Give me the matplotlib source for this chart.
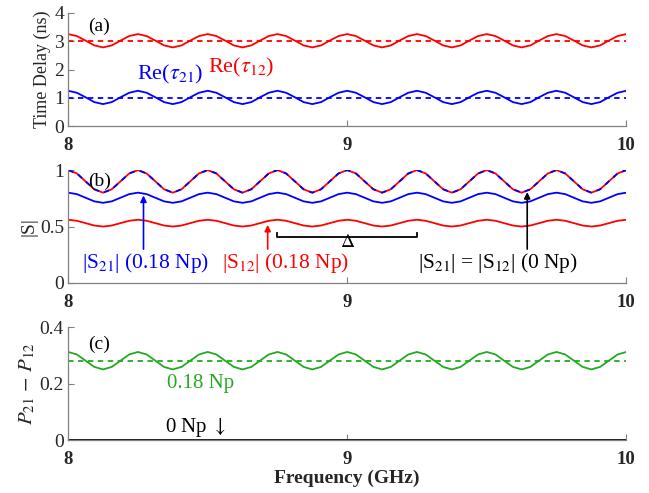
import numpy as np
import matplotlib
matplotlib.use("Agg")
from matplotlib import pyplot as plt

plt.rcParams["font.family"] = ["Liberation Serif", "DejaVu Serif"]
plt.rcParams["mathtext.fontset"] = "stix"

# frequency grid (GHz), 1/8 of a ripple period between samples
freq = np.linspace(8, 10, 65)

# (a) time delay (ns)
tau12 = [3.25, 3.18, 3.02, 2.85, 2.78, 2.85, 3.02, 3.18,
         3.25, 3.18, 3.02, 2.85, 2.78, 2.85, 3.02, 3.18,
         3.25, 3.18, 3.02, 2.85, 2.78, 2.85, 3.02, 3.18,
         3.25, 3.18, 3.02, 2.85, 2.78, 2.85, 3.02, 3.18,
         3.25, 3.18, 3.02, 2.85, 2.78, 2.85, 3.02, 3.18,
         3.25, 3.18, 3.02, 2.85, 2.78, 2.85, 3.02, 3.18,
         3.25, 3.18, 3.02, 2.85, 2.78, 2.85, 3.02, 3.18,
         3.25, 3.18, 3.02, 2.85, 2.78, 2.85, 3.02, 3.18,
         3.25]
tau21 = [1.25, 1.18, 1.02, 0.85, 0.78, 0.85, 1.02, 1.18,
         1.25, 1.18, 1.02, 0.85, 0.78, 0.85, 1.02, 1.18,
         1.25, 1.18, 1.02, 0.85, 0.78, 0.85, 1.02, 1.18,
         1.25, 1.18, 1.02, 0.85, 0.78, 0.85, 1.02, 1.18,
         1.25, 1.18, 1.02, 0.85, 0.78, 0.85, 1.02, 1.18,
         1.25, 1.18, 1.02, 0.85, 0.78, 0.85, 1.02, 1.18,
         1.25, 1.18, 1.02, 0.85, 0.78, 0.85, 1.02, 1.18,
         1.25, 1.18, 1.02, 0.85, 0.78, 0.85, 1.02, 1.18,
         1.25]
tau12_mean = 3.0
tau21_mean = 1.0

# (b) |S|
s_lossless = [1.00, 0.97, 0.90, 0.83, 0.80, 0.83, 0.90, 0.97,
              1.00, 0.97, 0.90, 0.83, 0.80, 0.83, 0.90, 0.97,
              1.00, 0.97, 0.90, 0.83, 0.80, 0.83, 0.90, 0.97,
              1.00, 0.97, 0.90, 0.83, 0.80, 0.83, 0.90, 0.97,
              1.00, 0.97, 0.90, 0.83, 0.80, 0.83, 0.90, 0.97,
              1.00, 0.97, 0.90, 0.83, 0.80, 0.83, 0.90, 0.97,
              1.00, 0.97, 0.90, 0.83, 0.80, 0.83, 0.90, 0.97,
              1.00, 0.97, 0.90, 0.83, 0.80, 0.83, 0.90, 0.97,
              1.00]
s21 = [0.800, 0.787, 0.755, 0.723, 0.710, 0.723, 0.755, 0.787,
       0.800, 0.787, 0.755, 0.723, 0.710, 0.723, 0.755, 0.787,
       0.800, 0.787, 0.755, 0.723, 0.710, 0.723, 0.755, 0.787,
       0.800, 0.787, 0.755, 0.723, 0.710, 0.723, 0.755, 0.787,
       0.800, 0.787, 0.755, 0.723, 0.710, 0.723, 0.755, 0.787,
       0.800, 0.787, 0.755, 0.723, 0.710, 0.723, 0.755, 0.787,
       0.800, 0.787, 0.755, 0.723, 0.710, 0.723, 0.755, 0.787,
       0.800, 0.787, 0.755, 0.723, 0.710, 0.723, 0.755, 0.787,
       0.800]
s12 = [0.560, 0.551, 0.530, 0.509, 0.500, 0.509, 0.530, 0.551,
       0.560, 0.551, 0.530, 0.509, 0.500, 0.509, 0.530, 0.551,
       0.560, 0.551, 0.530, 0.509, 0.500, 0.509, 0.530, 0.551,
       0.560, 0.551, 0.530, 0.509, 0.500, 0.509, 0.530, 0.551,
       0.560, 0.551, 0.530, 0.509, 0.500, 0.509, 0.530, 0.551,
       0.560, 0.551, 0.530, 0.509, 0.500, 0.509, 0.530, 0.551,
       0.560, 0.551, 0.530, 0.509, 0.500, 0.509, 0.530, 0.551,
       0.560, 0.551, 0.530, 0.509, 0.500, 0.509, 0.530, 0.551,
       0.560]

# (c) P21 - P12
dp_lossy = [0.312, 0.303, 0.281, 0.259, 0.250, 0.259, 0.281, 0.303,
            0.312, 0.303, 0.281, 0.259, 0.250, 0.259, 0.281, 0.303,
            0.312, 0.303, 0.281, 0.259, 0.250, 0.259, 0.281, 0.303,
            0.312, 0.303, 0.281, 0.259, 0.250, 0.259, 0.281, 0.303,
            0.312, 0.303, 0.281, 0.259, 0.250, 0.259, 0.281, 0.303,
            0.312, 0.303, 0.281, 0.259, 0.250, 0.259, 0.281, 0.303,
            0.312, 0.303, 0.281, 0.259, 0.250, 0.259, 0.281, 0.303,
            0.312, 0.303, 0.281, 0.259, 0.250, 0.259, 0.281, 0.303,
            0.312]
dp_mean = 0.28
dp_lossless = 0.0

RED = "#FF0000"
BLUE = "#0000FF"
GREEN = "#22AA22"
GRAY = "#808080"
TXT = "#262626"

fig = plt.figure(figsize=(6.49, 4.93), dpi=100, facecolor="white")
left, width = 0.105, 0.860
ax_a = fig.add_axes([left, 0.744, width, 0.230])
ax_b = fig.add_axes([left, 0.426, width, 0.229])
ax_c = fig.add_axes([left, 0.1075, width, 0.229])


def style_axis(ax, yticks, yticklabels):
    for side in ["top", "right"]:
        ax.spines[side].set_visible(False)
    for side in ["left", "bottom"]:
        ax.spines[side].set_color(GRAY)
        ax.spines[side].set_linewidth(0.9)
    ax.set_xlim(8, 10)
    ax.set_xticks([8, 9, 10])
    ax.set_xticklabels(["8", "9", "10"], fontweight="bold", fontsize=13.5)
    ax.set_yticks(yticks)
    ax.set_yticklabels(yticklabels, fontsize=14)
    ax.tick_params(direction="in", length=4, color=GRAY, labelcolor=TXT, pad=3)
    ax.tick_params(axis="x", pad=8)


# (a)
ax_a.plot(freq, tau12, color=RED, lw=1.3)
ax_a.plot(freq, tau21, color=BLUE, lw=1.3)
ax_a.axhline(tau12_mean, color=RED, lw=1.3, ls=(0, (3, 2.5)))
ax_a.axhline(tau21_mean, color=BLUE, lw=1.3, ls=(0, (3, 2.5)))
ax_a.set_ylim(0, 4)
style_axis(ax_a, [0, 1, 2, 3, 4], ["0", "1", "2", "3", "4"])
ax_a.set_ylabel("Time Delay (ns)", fontsize=13, color=TXT, labelpad=2)
ax_a.text(8.07, 3.52, "(a)", fontsize=14, va="center")
ax_a.text(8.366, 1.84, r"Re($\tau_{21}$)", color=BLUE, fontsize=16, va="center", ha="center")
ax_a.text(8.62, 2.06, r"Re($\tau_{12}$)", color=RED, fontsize=16, va="center", ha="center")

# (b)
ax_b.plot(freq, s_lossless, color=RED, lw=1.3)
ax_b.plot(freq, s_lossless, color=BLUE, lw=1.3, ls=(0, (3, 3)))
ax_b.plot(freq, s21, color=BLUE, lw=1.3)
ax_b.plot(freq, s12, color=RED, lw=1.3)
ax_b.set_ylim(0, 1)
style_axis(ax_b, [0, 0.5, 1], ["0", "0.5", "1"])
ax_b.set_ylabel("|S|", fontsize=14, color=TXT, labelpad=2)
ax_b.text(8.07, 0.9, "(b)", fontsize=14, va="center")
ax_b.annotate("", xy=(8.27, 0.775), xytext=(8.27, 0.3),
              arrowprops=dict(arrowstyle="-|>", color=BLUE, lw=1.2,
                              mutation_scale=9, shrinkA=0, shrinkB=0))
ax_b.annotate("", xy=(8.715, 0.515), xytext=(8.715, 0.3),
              arrowprops=dict(arrowstyle="-|>", color=RED, lw=1.2,
                              mutation_scale=9, shrinkA=0, shrinkB=0))
ax_b.annotate("", xy=(9.645, 0.805), xytext=(9.645, 0.3),
              arrowprops=dict(arrowstyle="-|>", color="black", lw=1.2,
                              mutation_scale=9, shrinkA=0, shrinkB=0))
ax_b.plot([8.75, 8.75, 9.25, 9.25], [0.44, 0.41, 0.41, 0.44], color="black", lw=1.3)
ax_b.text(9.0, 0.355, r"$\Delta$", fontsize=14, ha="center", va="center")
ax_b.text(8.278, 0.18, r"|S$_{21}$| (0.18 Np)", color=BLUE, fontsize=15.5, ha="center", va="center")
ax_b.text(8.778, 0.18, r"|S$_{12}$| (0.18 Np)", color=RED, fontsize=15.5, ha="center", va="center")
ax_b.text(9.541, 0.18, r"|S$_{21}$| = |S$_{12}$| (0 Np)", color="black", fontsize=15.5,
          ha="center", va="center")

# (c)
ax_c.plot(freq, dp_lossy, color=GREEN, lw=1.3)
ax_c.axhline(dp_mean, color=GREEN, lw=1.3, ls=(0, (3, 2.5)))
ax_c.axhline(dp_lossless, color="black", lw=2.0)
ax_c.set_ylim(0, 0.4)
style_axis(ax_c, [0, 0.2, 0.4], ["0", "0.2", "0.4"])
ax_c.set_ylabel(r"$P_{21}\,-\,P_{12}$", fontsize=15, color=TXT, labelpad=2)
ax_c.text(8.07, 0.34, "(c)", fontsize=14, va="center")
ax_c.text(8.473, 0.2, "0.18 Np", color=GREEN, fontsize=15, ha="center", va="center")
ax_c.text(8.455, 0.046, r"0 Np $\downarrow$", color="black", fontsize=15, ha="center", va="center")
ax_c.set_xlabel("Frequency (GHz)", fontsize=14, fontweight="bold", color=TXT, labelpad=1)

plt.savefig("out.png", dpi=100)
